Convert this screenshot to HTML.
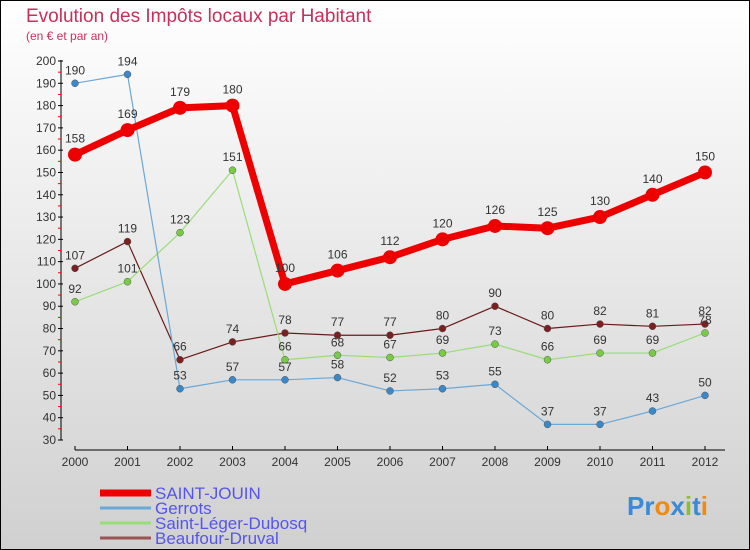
<!DOCTYPE html>
<html><head><meta charset="utf-8"><style>
body{margin:0;width:750px;height:550px;overflow:hidden;font-family:"Liberation Sans",sans-serif}
#frame{position:absolute;left:0;top:0;width:748px;height:548px;border:1px solid #000;background:linear-gradient(#fff,#d0d0d0)}
</style></head><body>
<div id="frame"></div>
<svg id="c" width="750" height="550" style="position:absolute;left:0;top:0">
<text x="26" y="22" font-size="19" fill="#c8305a">Evolution des Impôts locaux par Habitant</text>
<text x="26" y="40" font-size="12" fill="#c8305a">(en € et par an)</text>
<text x="627" y="515" font-size="26" font-weight="bold" fill="#3a8ad8">Pr<tspan fill="#f08a10">o</tspan><tspan fill="#3a8ad8">x</tspan><tspan fill="#8ac030">i</tspan><tspan fill="#3a8ad8">t</tspan><tspan fill="#f08a10">i</tspan></text>
</svg>
<script>
const years=[2000,2001,2002,2003,2004,2005,2006,2007,2008,2009,2010,2011,2012];
const yTicks=[30,40,50,60,70,80,90,100,110,120,130,140,150,160,170,180,190,200];
const saintJouin=[158,169,179,180,100,106,112,120,126,125,130,140,150];
const gerrots=[190,194,53,57,57,58,52,53,55,37,37,43,50];
const saintLeger=[92,101,123,151,66,68,67,69,73,66,69,69,78];
const beaufour=[107,119,66,74,78,77,77,80,90,80,82,81,82];
const names=["SAINT-JOUIN","Gerrots","Saint-Léger-Dubosq","Beaufour-Druval"];
const svg=document.getElementById('c');const NS="http://www.w3.org/2000/svg";
const X=i=>75+i*52.5;const Y=v=>440-(v-30)*(379/170);
function mk(t,a,p){const e=document.createElementNS(NS,t);for(const k in a)e.setAttribute(k,a[k]);(p||svg).appendChild(e);return e;}
mk('line',{x1:61,y1:60,x2:61,y2:440,stroke:'#000','stroke-width':1});
mk('line',{x1:75,y1:450,x2:725,y2:450,stroke:'#000','stroke-width':1});
yTicks.forEach(v=>{mk('line',{x1:58,x2:63,y1:Y(v),y2:Y(v),stroke:'#000'});
 if(v<200)mk('line',{x1:58,x2:61,y1:Y(v+5),y2:Y(v+5),stroke:'#f00'});
 const t=mk('text',{x:56,y:Y(v)+4,'font-size':12,'text-anchor':'end',fill:'#333'});t.textContent=v;
 
 });
years.forEach((y,i)=>{mk('line',{x1:X(i),x2:X(i),y1:446,y2:450,stroke:'#000'});
 const t=mk('text',{x:X(i),y:466,'font-size':12,'text-anchor':'middle',fill:'#333'});t.textContent=y;
 
 });
const series=[[beaufour,'#6b1a1a','#7a2020',1.2,3.5],[saintLeger,'#99dd77','#77cc44',1.2,3.5],[gerrots,'#6aa8d8','#3a88c8',1.2,3.5],[saintJouin,'#ee0000','#ee0000',7,7]];
const sn=['beaufour-druval','saint-leger-dubosq','gerrots','saint-jouin'];
series.forEach((s,k)=>{const g=mk('g',{});
 
 
 mk('polyline',{points:s[0].map((v,i)=>X(i)+','+Y(v)).join(' '),fill:'none',stroke:s[1],'stroke-width':s[3],'stroke-linejoin':'round'},g);
 s[0].forEach((v,i)=>{const c=mk('circle',{cx:X(i),cy:Y(v),r:s[4],fill:s[2],stroke:k==3?'none':'#555','stroke-width':0.5},g);
  
  
  const t=mk('text',{x:X(i),y:Y(v)-(k==3?12:9),'font-size':12,'text-anchor':'middle',fill:'#333'},g);t.textContent=v;});
});
const lc=['#ee0000','#6aa8d8','#99dd77','#995555'],lw=[7,3,3,3];
names.forEach((n,i)=>{const y=493+i*15;
 mk('line',{x1:100,x2:151,y1:y,y2:y,stroke:lc[i],'stroke-width':lw[i]});
 const t=mk('text',{x:155,y:y+6,'font-size':17,fill:'#5555ee'});t.textContent=n;
 
 });
</script>
</body></html>
